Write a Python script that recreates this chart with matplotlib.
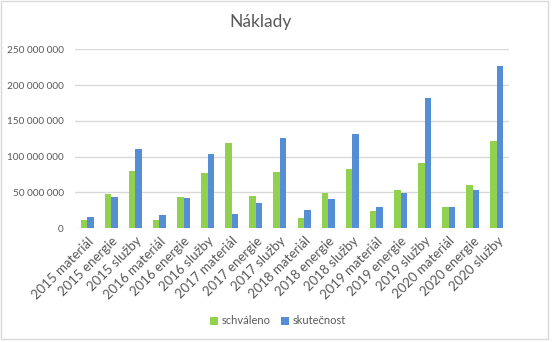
import matplotlib
matplotlib.use("Agg")
import matplotlib.pyplot as plt
import numpy as np
from matplotlib.patches import Rectangle
from matplotlib.ticker import FuncFormatter, FixedLocator

categories = [
    "2015 materiál", "2015 energie", "2015 služby",
    "2016 materiál", "2016 energie", "2016 služby",
    "2017 materiál", "2017 energie", "2017 služby",
    "2018 materiál", "2018 energie", "2018 služby",
    "2019 materiál", "2019 energie", "2019 služby",
    "2020 materiál", "2020 energie", "2020 služby",
]
schvaleno = [11.2, 47.6, 79.7, 11.0, 43.4, 77.0, 118.9, 44.8, 78.3,
             14.0, 49.0, 82.5, 23.8, 53.1, 90.9, 29.4, 60.1, 121.7]
skutecnost = [15.4, 43.4, 110.5, 18.2, 42.0, 103.5, 19.6, 35.0, 125.9,
              25.2, 40.6, 131.5, 29.4, 49.0, 181.8, 29.4, 53.1, 226.6]
y_ticks = [0, 50e6, 100e6, 150e6, 200e6, 250e6]

GREEN = "#92D050"
BLUE = "#558ED5"
TEXT = "#595959"
GRID = "#D9D9D9"

plt.rcParams["font.family"] = ["Lato", "DejaVu Sans"]

W, H = 552, 342
fig = plt.figure(figsize=(W / 100, H / 100), dpi=100)
fig.patch.set_facecolor("white")

# plot area in pixel coordinates
left, right, top, bottom = 75, 509, 49.3, 228
ax = fig.add_axes([left / W, 1 - bottom / H, (right - left) / W, (bottom - top) / H])

x = np.arange(len(categories))
bw = 0.27
a = np.array(schvaleno) * 1e6
b = np.array(skutecnost) * 1e6
ax.bar(x - bw / 2, a, width=bw, color=GREEN, label="schváleno", zorder=3)
ax.bar(x + bw / 2, b, width=bw, color=BLUE, label="skutečnost", zorder=3)

ax.set_xlim(-0.5, len(categories) - 0.5)
ax.set_ylim(0, 250e6)
ax.yaxis.set_major_locator(FixedLocator(y_ticks))
ax.yaxis.set_major_formatter(FuncFormatter(lambda v, p: f"{int(v):,}".replace(",", " ")))
ax.grid(axis="y", color=GRID, linewidth=1, zorder=0)
ax.set_axisbelow(True)
for s in ax.spines.values():
    s.set_visible(False)
ax.tick_params(axis="y", length=0, pad=8, labelsize=7.2, labelcolor=TEXT)
ax.tick_params(axis="x", length=0, pad=5, labelsize=9.5, labelcolor=TEXT)
ax.set_xticks(x)
ax.set_xticklabels(categories, rotation=45, ha="right", rotation_mode="anchor")

fig.text(261 / W, 1 - 22 / H, "Náklady", ha="center", va="center", fontsize=12.5, color=TEXT)

leg = fig.legend(loc="center", bbox_to_anchor=(278 / W, 1 - 321 / H), ncol=2, frameon=False,
                 fontsize=8, handlelength=0.7, handleheight=0.7, handletextpad=0.3,
                 columnspacing=1.0)
for t in leg.get_texts():
    t.set_color(TEXT)

fig.patches.append(Rectangle((1 / W, 1 - 339 / H), 547 / W, 338 / H, transform=fig.transFigure,
                             fill=False, edgecolor=GRID, linewidth=1))

fig.savefig("out.png", dpi=100, facecolor="white")
